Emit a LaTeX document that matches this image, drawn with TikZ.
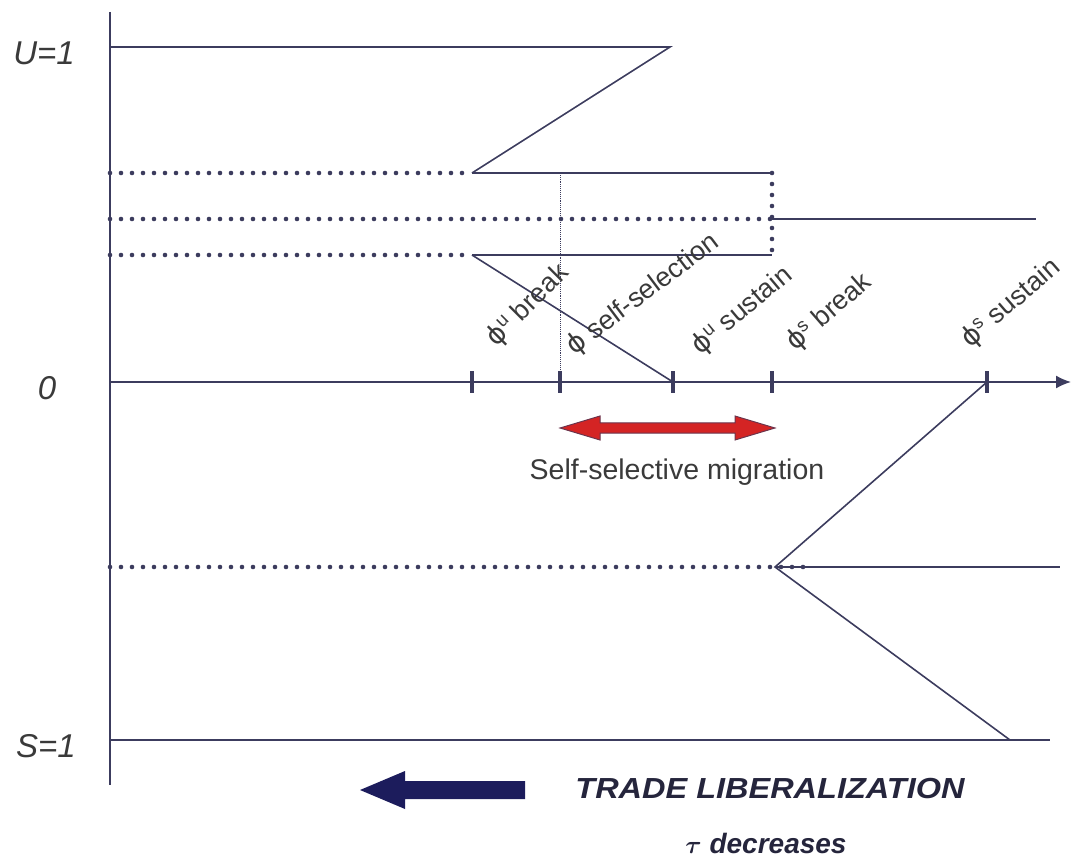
\documentclass[tikz,border=0pt]{standalone}
\usepackage{amsmath}
\usepackage{fontspec}
\setmainfont{Liberation Sans}
\newfontfamily\phifont{DejaVu Sans}
\newcommand{\myphi}{{\phifont ϕ}}
\usetikzlibrary{arrows.meta}
\definecolor{ln}{HTML}{3C3C5E}
\definecolor{txt}{HTML}{3A3A3A}
\definecolor{redar}{HTML}{D42424}
\definecolor{bluear}{HTML}{1C1C5C}
\definecolor{navytxt}{HTML}{25253C}
\tikzset{
  solidline/.style={draw=ln, line width=1.6pt},
  dotline/.style={draw=ln, line width=4.6pt, line cap=round, dash pattern=on 0pt off 11pt},
  thindot/.style={draw=ln, line width=0.9pt, densely dotted},
  tick/.style={draw=ln, line width=4pt},
  axlabel/.style={text=txt, font=\fontsize{33}{36}\selectfont\itshape},
  philabel/.style={text=txt, font=\fontsize{27}{30}\selectfont, anchor=base west, inner sep=0pt},
}
\begin{document}
\begin{tikzpicture}[x=1pt,y=-1pt]
\useasboundingbox (0,0) rectangle (1071,858);
% key coordinates
\coordinate (vtop) at (110,12);
\coordinate (vbot) at (110,785);
\coordinate (u0) at (110,47);
\coordinate (u1) at (670,47);
\coordinate (a0) at (110,173);
\coordinate (a1) at (472,173);
\coordinate (a2) at (772,173);
\coordinate (b0) at (110,219);
\coordinate (b1) at (772,219);
\coordinate (b2) at (1036,219);
\coordinate (c0) at (110,255);
\coordinate (c1) at (472,255);
\coordinate (c2) at (772,255);
\coordinate (o0) at (110,382);
\coordinate (o1) at (1071,382);
\coordinate (t1) at (472,382);
\coordinate (t2) at (560,382);
\coordinate (t3) at (673,382);
\coordinate (t4) at (772,382);
\coordinate (t5) at (987,382);
\coordinate (ss) at (560,173);
\coordinate (d0) at (110,567);
\coordinate (d1) at (775,567);
\coordinate (d1e) at (808,567);
\coordinate (d2) at (1060,567);
\coordinate (s0) at (110,740);
\coordinate (s1) at (1010,740);
\coordinate (s2) at (1050,740);

% vertical axis
\draw[solidline] (vtop) -- (vbot);
% U=1 branch
\draw[solidline] (u0) -- (u1) -- (a1);
\draw[dotline] (a0) -- (a1);
\draw[solidline] (a1) -- (a2);
\draw[dotline] (a2) -- (c2);
\draw[dotline] (b0) -- (b1);
\draw[solidline] (b1) -- (b2);
\draw[dotline] (c0) -- (c1);
\draw[solidline] (c1) -- (c2);
\draw[solidline] (c1) -- (t3);
\draw[thindot] (ss) -- (t2);
% horizontal axis
\draw[solidline, -{Latex[length=15pt,width=13pt]}] (o0) -- (o1);
\foreach \t in {t1,t2,t3,t4,t5} {
  \draw[tick] ([yshift=-11pt]\t) -- ([yshift=11pt]\t);
}
% S branch
\draw[dotline] (d0) -- (d1e);
\draw[solidline] (d1) -- (d2);
\draw[solidline] (t5) -- (d1) -- (s1);
\draw[solidline] (s0) -- (s2);

% axis labels
\node[axlabel] (lu) at (44,53) {U=1};
\node[axlabel] (lo) at (47,388) {0};
\node[axlabel] (ls) at (46,746) {S=1};

% phi labels
\node[philabel, rotate=45] (p1) at (496,348) {\myphi\textsuperscript{u} break};
\node[philabel, rotate=37] (p2) at (574,356) {\myphi\ self-selection};
\node[philabel, rotate=40] (p3) at (700,356) {\myphi\textsuperscript{u} sustain};
\node[philabel, rotate=41] (p4) at (795,352) {\myphi\textsuperscript{s} break};
\node[philabel, rotate=41] (p5) at (970,349) {\myphi\textsuperscript{s} sustain};

% red double arrow
\draw[draw=ln!70!redar, line width=1pt, fill=redar]
  (560,428) -- (600,416) -- (600,423) -- (735,423) -- (735,416) -- (775,428)
  -- (735,440) -- (735,433) -- (600,433) -- (600,440) -- cycle;
\node[text=txt, font=\fontsize{28.5}{32}\selectfont] (mig) at (677,472) {Self-selective migration};

% blue arrow
\fill[bluear] (360,790) -- (405,771) -- (405,781) -- (525,781) -- (525,799) -- (405,799) -- (405,809) -- cycle;
\node[text=navytxt, font=\fontsize{29}{32}\selectfont\bfseries\itshape] (tl) at (770,789) {\scalebox{1.12}[1]{TRADE LIBERALIZATION}};
\node[text=navytxt, font=\fontsize{28}{32}\selectfont\bfseries\itshape] (td) at (766,843) {$\boldsymbol{\tau}$ decreases};
\end{tikzpicture}
\end{document}
